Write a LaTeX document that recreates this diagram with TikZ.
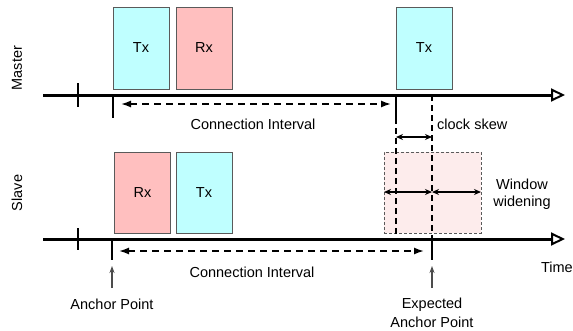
\documentclass[tikz,border=0pt]{standalone}
\usepackage{fontspec}
\setmainfont{Liberation Sans}
\usetikzlibrary{arrows.meta}
\definecolor{txcol}{RGB}{191,255,255}
\definecolor{rxcol}{RGB}{255,191,191}
\definecolor{wincol}{RGB}{253,236,236}
\definecolor{outl}{RGB}{90,90,90}
\tikzset{
  axisline/.style={line width=3pt,-{Triangle[length=14pt,width=13pt,line width=2pt,fill=white]}},
  tickline/.style={line width=2.6pt},
  markline/.style={line width=2pt},
  markdash/.style={line width=2pt,dash pattern=on 6pt off 4pt},
  slot/.style={draw=outl,line width=0.9pt,minimum width=56pt,minimum height=82pt,inner sep=0pt},
  txbox/.style={slot,fill=txcol},
  rxbox/.style={slot,fill=rxcol},
  intarrow/.style={line width=1.6pt,dash pattern=on 7pt off 5pt,{Latex[length=10pt,width=7pt]}-{Latex[length=10pt,width=7pt]}},
  smallarrow/.style={line width=1.2pt,{Stealth[length=7pt,width=6pt]}-{Stealth[length=7pt,width=6pt]}},
  anchorarrow/.style={draw=black!70,line width=1.1pt,-{Stealth[length=7pt,width=5pt]}},
  lbl/.style={inner sep=0pt},
}
\begin{document}
\begin{tikzpicture}[x=1pt,y=-1pt,font=\fontsize{14.5}{17}\selectfont]
\useasboundingbox (0,0) rectangle (573,330);
% window widening region
\node[draw=outl,line width=0.8pt,dash pattern=on 3pt off 2pt,fill=wincol,minimum width=97pt,minimum height=81pt,inner sep=0pt] (win) at (432.5,192.5) {};
% boxes
\node[txbox] (mtx1) at (141,48) {Tx};
\node[rxbox] (mrx) at (204,48) {Rx};
\node[txbox] (mtx2) at (424,48) {Tx};
\node[rxbox,minimum height=81pt] (srx) at (142.5,192.5) {Rx};
\node[txbox,minimum height=81pt] (stx) at (204,192.5) {Tx};
% coordinates
\coordinate (m0) at (43,95);
\coordinate (m1) at (565,95);
\coordinate (s0) at (43,239);
\coordinate (s1) at (565,239);
\coordinate (mt0) at (78,83); \coordinate (mt1) at (78,107);
\coordinate (st0) at (78,228); \coordinate (st1) at (78,250);
\coordinate (ma) at (113,95); \coordinate (mb) at (113,118);
\coordinate (sa) at (112,239); \coordinate (sb) at (112,260);
\coordinate (pa) at (396,95); \coordinate (pb) at (396,118); \coordinate (pc) at (396,239);
\coordinate (qa) at (432,95); \coordinate (qb) at (432,239); \coordinate (qc) at (432,260);
% vertical markers
\draw[markline] (ma) -- (mb);
\draw[markline] (sa) -- (sb);
\draw[markline] (pa) -- (pb);
\draw[markdash] (pb) -- (pc);
\draw[markdash] (qa) -- (qb);
\draw[markline] (qb) -- (qc);
% axes
\draw[axisline] (m0) -- (m1);
\draw[axisline] (s0) -- (s1);
\draw[tickline] (mt0) -- (mt1);
\draw[tickline] (st0) -- (st1);
% interval arrows
\coordinate (ci1a) at (113,104); \coordinate (ci1b) at (396,104);
\draw[intarrow,shorten <=8pt,shorten >=5pt] (ci1a) -- (ci1b);
\coordinate (ci2a) at (112,251); \coordinate (ci2b) at (432,251);
\draw[intarrow,shorten <=7pt,shorten >=8pt] (ci2a) -- (ci2b);
% clock skew arrow
\coordinate (cka) at (396,137); \coordinate (ckb) at (432,137);
\draw[smallarrow] (cka) -- (ckb);
% window widening arrows
\coordinate (wa) at (384,192); \coordinate (wb) at (432,192); \coordinate (wc) at (481,192);
\draw[smallarrow] (wa) -- (wb);
\draw[smallarrow] (wb) -- (wc);
% anchor arrows
\coordinate (aa) at (112,288); \coordinate (ab) at (112,266);
\coordinate (ea) at (432,288); \coordinate (eb) at (432,266);
\draw[anchorarrow] (aa) -- (ab);
\draw[anchorarrow] (ea) -- (eb);
% labels
\node[lbl] (lci1) at (253,124) {Connection Interval};
\node[lbl] (lci2) at (252,272) {Connection Interval};
\node[lbl,anchor=west] (lck) at (437,124) {clock skew};
\node[lbl,align=center] (lww) at (522,194) {Window\\widening};
\node[lbl,anchor=east] (ltime) at (573,267) {Time};
\node[lbl] (lap) at (112,304) {Anchor Point};
\node[lbl,align=center,font=\fontsize{14.5}{19}\selectfont] (lexp) at (432,312.5) {Expected\\Anchor Point};
\node[lbl,rotate=90] (lmaster) at (17,68) {Master};
\node[lbl,rotate=90] (lslave) at (17,193) {Slave};
\end{tikzpicture}
\end{document}
